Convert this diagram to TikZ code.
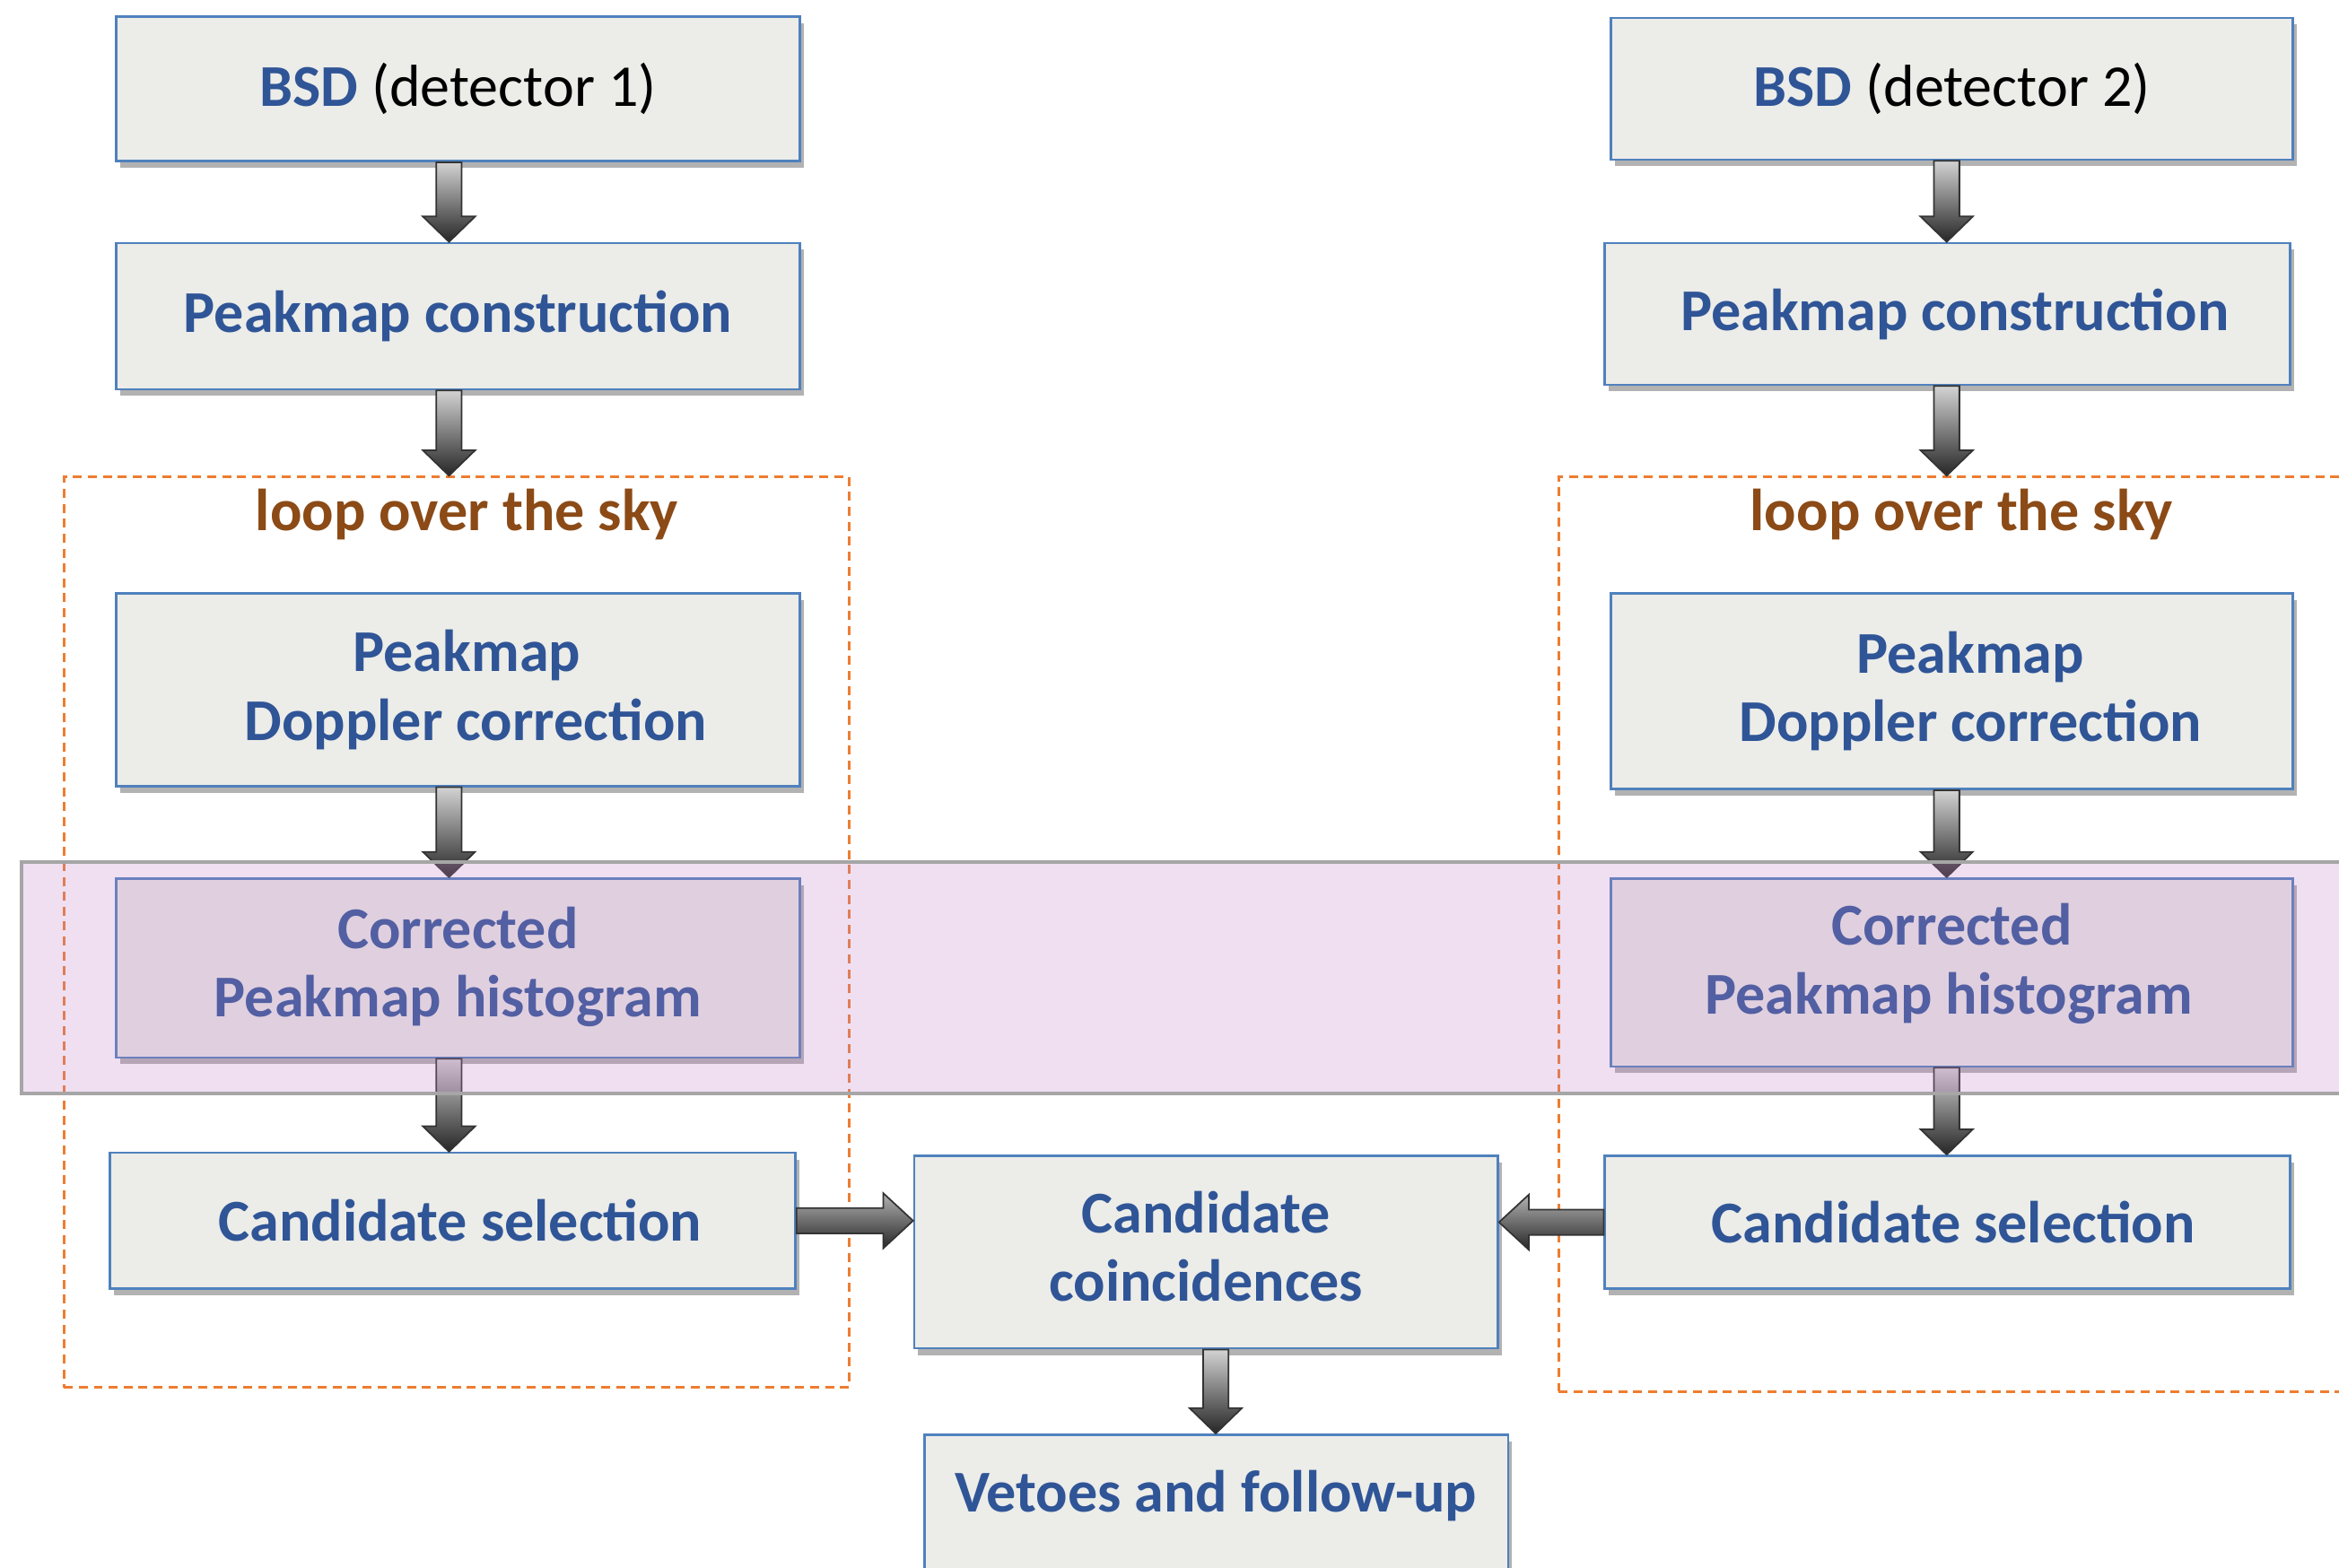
\documentclass[tikz,border=0pt]{standalone}
\usepackage{fontspec}
\setmainfont{Carlito}
\usetikzlibrary{calc,shadows}

\definecolor{boxblue}{HTML}{4F81BD}
\definecolor{boxfill}{HTML}{ECECE8}
\definecolor{txtblue}{HTML}{2F5597}
\definecolor{loopbrown}{HTML}{8B4A16}
\definecolor{looporange}{HTML}{ED7D31}
\definecolor{bandfill}{HTML}{C080C8}
\definecolor{bandline}{HTML}{A6A6A6}

\tikzset{
  stepbox/.style={draw=boxblue, line width=0.45pt, fill=boxfill, inner sep=0pt,
    text=txtblue, font=\bfseries\fontsize{11.3}{13.1}\selectfont, align=center,
    drop shadow={shadow xshift=0.25mm, shadow yshift=-0.45mm, opacity=0.3, fill=black}},
  boxtext/.style={text=txtblue, font=\bfseries\fontsize{11.3}{13.1}\selectfont,
    align=center, inner sep=0pt},
  looplabel/.style={text=loopbrown, font=\bfseries\fontsize{11.3}{13.1}\selectfont, inner sep=0pt},
  loopframe/.style={draw=looporange, line width=0.5pt, dash pattern=on 0.6mm off 0.4mm, inner sep=0pt},
  band/.style={draw=bandline, line width=0.6pt, fill=bandfill, fill opacity=0.25, inner sep=0pt},
  blockarrow/.style={draw=black!80, line width=0.3pt, top color=gray!35, bottom color=black!85},
  hblockarrow/.style={draw=black!80, line width=0.3pt, top color=gray!60, bottom color=black!85},
}

% nudges a centred line to the right by half of #1
\newcommand\nudge[1]{\hspace*{#1}}
% lowers the last line's depth so the text block rises by half of #1
\newcommand\lift[1]{\rule[-#1]{0pt}{0pt}}

% vertical block arrow: #1 start point, #2 tip point (same x)
\newcommand\flowdown[2]{%
  \shadedraw[blockarrow] let \p1=(#1), \p2=(#2) in
    ({\x1-0.085cm},\y1) -- ({\x1+0.085cm},\y1) -- ({\x1+0.085cm},{\y2+0.17cm})
    -- ({\x1+0.175cm},{\y2+0.17cm}) -- (\x1,\y2) -- ({\x1-0.175cm},{\y2+0.17cm})
    -- ({\x1-0.085cm},{\y2+0.17cm}) -- cycle;}
% horizontal block arrow pointing right
\newcommand\flowright[2]{%
  \shadedraw[hblockarrow] let \p1=(#1), \p2=(#2) in
    (\x1,{\y1+0.085cm}) -- ({\x2-0.2cm},{\y1+0.085cm}) -- ({\x2-0.2cm},{\y1+0.185cm})
    -- (\x2,\y1) -- ({\x2-0.2cm},{\y1-0.185cm}) -- ({\x2-0.2cm},{\y1-0.085cm})
    -- (\x1,{\y1-0.085cm}) -- cycle;}
% horizontal block arrow pointing left
\newcommand\flowleft[2]{%
  \shadedraw[hblockarrow] let \p1=(#1), \p2=(#2) in
    (\x1,{\y1+0.085cm}) -- ({\x2+0.2cm},{\y1+0.085cm}) -- ({\x2+0.2cm},{\y1+0.185cm})
    -- (\x2,\y1) -- ({\x2+0.2cm},{\y1-0.185cm}) -- ({\x2+0.2cm},{\y1-0.085cm})
    -- (\x1,{\y1-0.085cm}) -- cycle;}

\begin{document}
\begin{tikzpicture}[x=0.01cm, y=-0.01cm]
\clip (0,0) rectangle (1568,1051);
\fill[white] (0,0) rectangle (1568,1051);

% column axes for the arrows
\coordinate (colL) at (301,0);
\coordinate (colR) at (1305,0);
\coordinate (colC) at (815,0);

% sky-loop frames
\node[loopframe, minimum width=5.26cm, minimum height=6.10cm] (loopL) at (306,625) {};
\node[loopframe, minimum width=5.55cm, minimum height=6.13cm] (loopR) at (1322.5,626.5) {};
\node[looplabel] (loopLtext) at (313,345) {loop over the sky};
\node[looplabel] (loopRtext) at (1315,345) {loop over the sky};

% detector 1 chain
\node[stepbox, minimum width=4.58cm, minimum height=0.97cm] (bsdL) at (307,59.5)
  {BSD \textcolor{black}{\mdseries(detector 1)}};
\node[stepbox, minimum width=4.58cm, minimum height=0.98cm] (pcL) at (307,212)
  {Peakmap construction};
\node[stepbox, minimum width=4.58cm, minimum height=1.29cm] (dopL) at (307,462.5)
  {\nudge{0.12cm}Peakmap\\\nudge{0.24cm}Doppler correction};
\node[stepbox, minimum width=4.58cm, minimum height=1.20cm] (corL) at (307,649)
  {Corrected\\Peakmap histogram\lift{0.08cm}};
\node[stepbox, minimum width=4.59cm, minimum height=0.91cm] (csL) at (303.5,818.5)
  {\nudge{0.10cm}Candidate selection};

% detector 2 chain
\node[stepbox, minimum width=4.57cm, minimum height=0.95cm] (bsdR) at (1308.5,59.5)
  {BSD \textcolor{black}{\mdseries(detector 2)}};
\node[stepbox, minimum width=4.59cm, minimum height=0.95cm] (pcR) at (1305.5,210.5)
  {\nudge{0.10cm}Peakmap construction};
\node[stepbox, minimum width=4.57cm, minimum height=1.31cm] (dopR) at (1308.5,463.5)
  {\nudge{0.25cm}Peakmap\\\nudge{0.25cm}Doppler correction};
\node[stepbox, minimum width=4.57cm, minimum height=1.26cm] (corR) at (1308.5,652)
  {Corrected\\\hspace*{-0.04cm}Peakmap histogram\lift{0.18cm}};
\node[stepbox, minimum width=4.59cm, minimum height=0.89cm] (csR) at (1305.5,819.5)
  {\nudge{0.08cm}Candidate selection};

% joint stages
\node[stepbox, minimum width=3.91cm, minimum height=1.29cm] (cc) at (808.5,839.5)
  {Candidate\\coincidences\lift{0.08cm}};
\node[stepbox, minimum width=3.91cm, minimum height=1.38cm] (vet) at (815.5,1031) {};
\node[boxtext] (vettext) at (815,1003) {Vetoes and follow-up};

% arrows, detector 1
\flowdown{colL |- bsdL.south}{colL |- pcL.north}
\flowdown{colL |- pcL.south}{colL |- loopL.north}
\flowdown{colL |- dopL.south}{colL |- corL.north}
\flowdown{colL |- corL.south}{colL |- csL.north}
% arrows, detector 2
\flowdown{colR |- bsdR.south}{colR |- pcR.north}
\flowdown{colR |- pcR.south}{colR |- loopR.north}
\flowdown{colR |- dopR.south}{colR |- corR.north}
\flowdown{colR |- corR.south}{colR |- csR.north}
% coincidences
\flowright{csL.east}{csL.east -| cc.west}
\flowleft{csR.west}{csR.west -| cc.east}
\flowdown{colC |- cc.south}{colC |- vet.north}

% highlighted histogram stage
\node[band, minimum width=15.85cm, minimum height=1.55cm] (hist) at (807.5,655.5) {};
\end{tikzpicture}
\end{document}
